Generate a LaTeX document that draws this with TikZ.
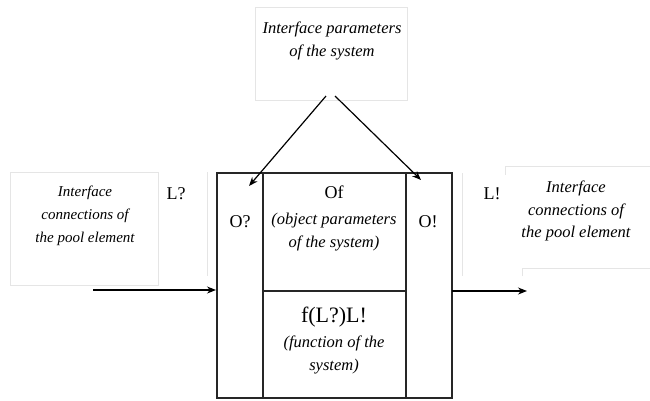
\documentclass[tikz,border=0pt]{standalone}
\usepackage{fontspec}
\setmainfont{Liberation Serif}
\usetikzlibrary{arrows.meta}
\begin{document}
\begin{tikzpicture}[x=1pt,y=-1pt,
  faint/.style={draw=black!10,line width=0.8pt},
  mainline/.style={draw=black!85,line width=1.2pt},
  conn/.style={draw=black,line width=1.2pt,-{Stealth[length=9pt,width=7pt]}},
  itext/.style={font=\fontsize{16.5}{22.5}\selectfont\itshape,align=center,inner sep=0pt},
  itextS/.style={itext,font=\fontsize{15}{23}\selectfont\itshape},
  rtext/.style={font=\fontsize{18}{20}\selectfont,inner sep=0pt},
  ftext/.style={font=\fontsize{22}{24}\selectfont,inner sep=0pt}]
\useasboundingbox (0,0) rectangle (650,400);
\fill[white] (0,0) rectangle (650,400);
% faint frames
\draw[faint] (255,7) rectangle (407,100);
\draw[faint] (10,172) rectangle (158,285);
\draw[faint] (652,166) -- (505,166) -- (505,175);
\draw[faint] (522,276) -- (522,268) -- (652,268);
\draw[faint] (207,172) -- (207,276);
\draw[faint] (462,173) -- (462,276);
% main box
\draw[mainline] (217,173) rectangle (452,398);
\draw[mainline] (263,173) -- (263,398);
\draw[mainline] (406,173) -- (406,398);
\draw[mainline] (263,291) -- (406,291);
% texts
\node[itext] (top) at (332,41) {Interface parameters\\of the system};
\node[itextS] (left) at (85,216) {Interface\\connections of\\the pool element};
\node[itext] (right) at (576,211) {Interface\\connections of\\the pool element};
\node[rtext] (Lq) at (176,194) {L?};
\node[rtext] (Le) at (492,194) {L!};
\node[rtext] (Oq) at (240,222) {O?};
\node[rtext] (Oe) at (428,222) {O!};
\node[rtext] (Of) at (334,192) {Of};
\node[itext] (objp) at (334,232) {(object parameters\\of the system)};
\node[ftext] (fun) at (334,317) {f(L?)L!};
\node[itext] (funt) at (334,355) {(function of the\\system)};
% connectors
\coordinate (tA) at (326,96);
\coordinate (tB) at (335,96);
\coordinate (hA) at (249,186);
\coordinate (hB) at (421,180);
\coordinate (inS) at (93,290);
\coordinate (inE) at (216,290);
\coordinate (outS) at (452,291);
\coordinate (outE) at (527,291);
\draw[conn] (tA) -- (hA);
\draw[conn] (tB) -- (hB);
\draw[conn] (inS) -- (inE);
\draw[conn] (outS) -- (outE);
\end{tikzpicture}
\end{document}
